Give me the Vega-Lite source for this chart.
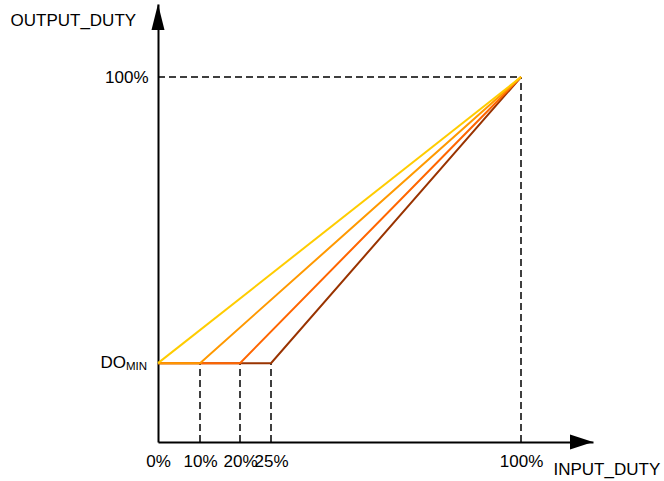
{
  "$schema": "https://vega.github.io/schema/vega-lite/v6.json",
  "width": 435,
  "height": 438,
  "autosize": {"type": "none"},
  "padding": {"left": 158, "top": 4, "right": 71, "bottom": 39},
  "config": {
    "view": {"stroke": null},
    "font": "Liberation Sans",
    "axis": {"labelFont": "Liberation Sans", "titleFont": "Liberation Sans"}
  },
  "datasets": {
    "lines": [
      {"series": "a_25", "x": 0, "y": 21.6},
      {"series": "a_25", "x": 25, "y": 21.6},
      {"series": "a_25", "x": 100, "y": 100},
      {"series": "b_20", "x": 0, "y": 21.6},
      {"series": "b_20", "x": 20, "y": 21.6},
      {"series": "b_20", "x": 100, "y": 100},
      {"series": "c_10", "x": 0, "y": 21.6},
      {"series": "c_10", "x": 10, "y": 21.6},
      {"series": "c_10", "x": 100, "y": 100},
      {"series": "d_0", "x": 0, "y": 21.6},
      {"series": "d_0", "x": 100, "y": 100}
    ],
    "vguides": [
      {"x": 10, "y": 0, "y2": 21.6},
      {"x": 20, "y": 0, "y2": 21.6},
      {"x": 25, "y": 0, "y2": 21.6},
      {"x": 100, "y": 0, "y2": 100}
    ],
    "hguides": [
      {"x": 0, "x2": 100, "y": 100}
    ],
    "arrows": [
      {"dir": "up", "x": 0, "y": 120},
      {"dir": "right", "x": 120, "y": 0}
    ],
    "domin": [
      {"x": 0, "y": 21.6, "main": "DO", "sub": "MIN"}
    ]
  },
  "encoding": {
    "x": {
      "field": "x",
      "type": "quantitative",
      "scale": {"domain": [0, 10, 20, 25, 100, 120], "range": [0, 42, 82, 113, 363, 435], "nice": false, "zero": false},
      "axis": {
        "values": [0, 10, 20, 25, 100],
        "labelExpr": "datum.value + '%'",
        "grid": false,
        "ticks": false,
        "domainColor": "#000000",
        "domainWidth": 2,
        "labelColor": "#000000",
        "labelFontSize": 17,
        "labelBaseline": "middle",
        "labelPadding": 19,
        "labelOverlap": false,
        "labelBound": false,
        "labelFlush": false,
        "title": "INPUT_DUTY",
        "titleFontSize": 17,
        "titleFontWeight": "normal",
        "titleColor": "#000000",
        "titleAlign": "left",
        "titleBaseline": "middle",
        "titleX": 395,
        "titleY": 27,
        "encode": {"labels": {"update": {"dy": {"signal": "datum.value === 100 ? -5 : 0"}}}}
      }
    },
    "y": {
      "field": "y",
      "type": "quantitative",
      "scale": {"domain": [0, 120], "nice": false, "zero": false},
      "axis": {
        "values": [100],
        "labelExpr": "datum.value + '%'",
        "grid": false,
        "ticks": false,
        "domainColor": "#000000",
        "domainWidth": 2,
        "labelColor": "#000000",
        "labelFontSize": 17,
        "labelBaseline": "middle",
        "labelPadding": 10,
        "labelBound": false,
        "title": "OUTPUT_DUTY",
        "titleFontSize": 17,
        "titleFontWeight": "normal",
        "titleColor": "#000000",
        "titleAngle": 0,
        "titleAlign": "left",
        "titleBaseline": "middle",
        "titleX": -148,
        "titleY": 16
      }
    }
  },
  "layer": [
    {
      "data": {"name": "vguides"},
      "mark": {"type": "rule", "color": "#000000", "strokeWidth": 1.5, "strokeDash": [7, 4]},
      "encoding": {"y2": {"field": "y2"}}
    },
    {
      "data": {"name": "hguides"},
      "mark": {"type": "rule", "color": "#000000", "strokeWidth": 1.5, "strokeDash": [7, 4]},
      "encoding": {"x2": {"field": "x2"}}
    },
    {
      "data": {"name": "lines"},
      "mark": {"type": "line", "strokeWidth": 2},
      "encoding": {
        "color": {
          "field": "series",
          "type": "nominal",
          "scale": {"domain": ["a_25", "b_20", "c_10", "d_0"], "range": ["#993300", "#FF6600", "#FF9900", "#FFCC00"]},
          "legend": null
        },
        "order": {"field": "x", "type": "quantitative"}
      }
    },
    {
      "data": {"name": "arrows"},
      "transform": [{"filter": "datum.dir === 'up'"}],
      "mark": {"type": "point", "shape": "M0,0L-0.5,2L0.5,2Z", "filled": true, "color": "#000000", "opacity": 1, "size": 676, "strokeWidth": 0}
    },
    {
      "data": {"name": "arrows"},
      "transform": [{"filter": "datum.dir === 'right'"}],
      "mark": {"type": "point", "shape": "M0,0L-2,-0.65L-2,0.65Z", "filled": true, "color": "#000000", "opacity": 1, "size": 529, "strokeWidth": 0}
    },
    {
      "data": {"name": "domin"},
      "mark": {"type": "text", "align": "right", "baseline": "alphabetic", "dx": -32, "dy": 5, "fontSize": 17, "color": "#000000"},
      "encoding": {"text": {"field": "main"}}
    },
    {
      "data": {"name": "domin"},
      "mark": {"type": "text", "align": "left", "baseline": "alphabetic", "dx": -32, "dy": 7, "fontSize": 11.5, "color": "#000000"},
      "encoding": {"text": {"field": "sub"}}
    }
  ]
}
